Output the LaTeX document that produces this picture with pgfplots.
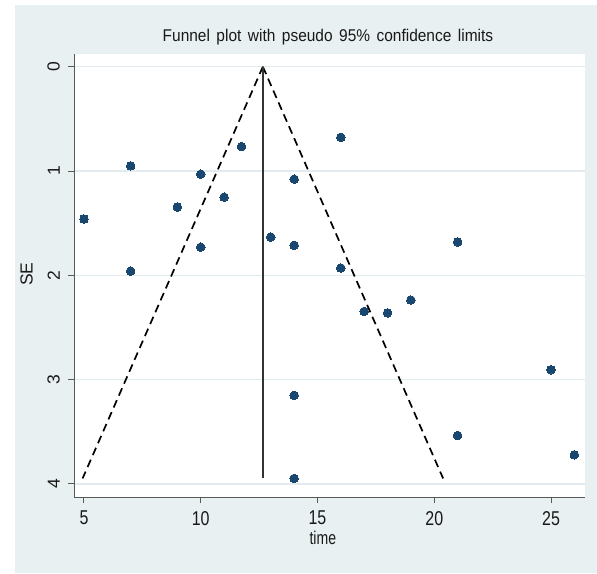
\documentclass[border=0pt]{standalone}
\usepackage{fontspec}
\setmainfont{Liberation Sans}
\usepackage{pgfplots}
\pgfplotsset{compat=1.18}
\definecolor{bgc}{RGB}{233,240,242}
\definecolor{gridc}{RGB}{226,235,239}
\definecolor{navy}{RGB}{26,71,111}
\begin{document}
\begin{tikzpicture}[x=1pt,y=1pt]
\path[use as bounding box] (0,0) rectangle (597,573);
\fill[bgc] (15,0) rectangle (597,568);
\begin{axis}[
  at={(74pt,76pt)}, anchor=south west,
  scale only axis, width=511pt, height=443pt,
  xmin=4.572, xmax=26.456, ymin=-0.122, ymax=4.125, y dir=reverse,
  axis background/.style={fill=white},
  axis x line*=bottom, axis y line*=left,
  axis line style={draw=black!65, line width=1pt},
  xtick={5,10,15,20,25}, ytick={0,1,2,3,4},
  tick align=outside, major tick length=6pt,
  tick style={draw=black!65, line width=1pt},
  ymajorgrids, grid style={draw=gridc, line width=1.3pt},
  /pgf/number format/assume math mode=true,
  xticklabel={\scalebox{0.8}[1]{\pgfmathprintnumber{\tick}}},
  xticklabel style={yshift=-8pt, anchor=north, inner sep=0pt, text=black!90, font=\fontsize{20}{20}\selectfont},
  yticklabel style={xshift=-8pt, rotate=90, anchor=south, inner sep=0pt, text=black!90, font=\fontsize{17.5}{17.5}\selectfont},
  title={\scalebox{0.91}[1]{\spaceskip=0.42em\relax Funnel plot with pseudo 95\% confidence limits}},
  title style={at={(0.497,1.015)}, anchor=base, text=black!90, font=\fontsize{17}{17}\selectfont},
  xlabel={\scalebox{0.76}[1]{time}},
  xlabel style={at={(0.487,-0.0926)}, anchor=center, text=black!90, font=\fontsize{18.5}{18.5}\selectfont},
  ylabel={SE},
  ylabel style={at={(-0.093,0.503)}, anchor=center, text=black!90, font=\fontsize{17.5}{17.5}\selectfont},
]
\addplot[black, line width=1.7pt, dash pattern=on 8pt off 5pt] coordinates {(12.66,0) (4.94,3.947)};
\addplot[black, line width=1.7pt, dash pattern=on 8pt off 5pt] coordinates {(12.66,0) (20.38,3.947)};
\addplot[black!80, line width=1.8pt] coordinates {(12.66,0) (12.66,3.947)};
\addplot[only marks, mark=*, mark size=4.3pt, mark options={fill=navy, draw=navy, line width=0pt}] coordinates {
(5,1.46) (7,0.95) (7,1.96) (9,1.345) (10,1.03) (10,1.73) (11,1.25) (11.75,0.765)
(13,1.633) (14,1.078) (14,1.712) (16,0.677) (16,1.93) (17,2.346) (18,2.36) (19,2.237)
(21,1.68) (14,3.15) (14,3.947) (21,3.535) (25,2.905) (26,3.72)
};
\end{axis}
\end{tikzpicture}
\end{document}
